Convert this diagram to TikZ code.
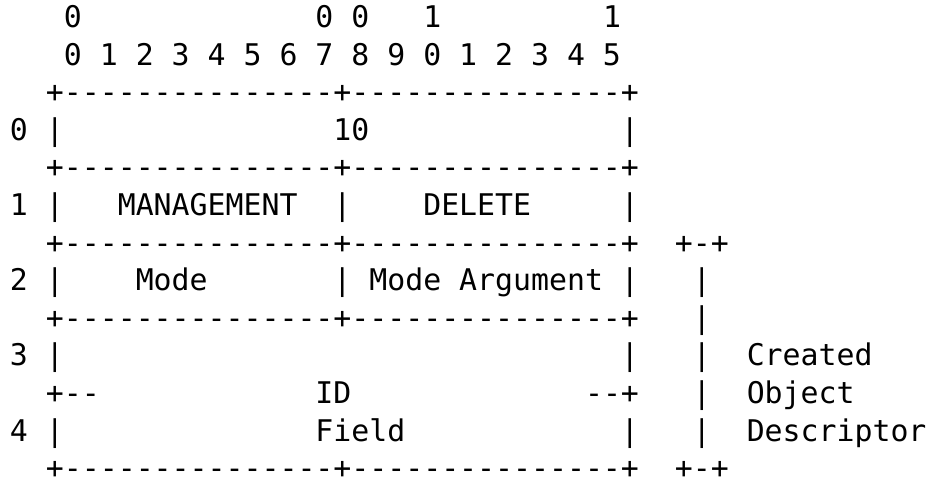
\documentclass[tikz,border=0pt]{standalone}
\usepackage{fontspec}
\newfontfamily\asciimono{DejaVu Sans Mono}
\tikzset{
  txt/.style={font=\asciimono\fontsize{29.85pt}{37.6pt}\selectfont\frenchspacing,
    anchor=base west, inner sep=0pt, outer sep=0pt, text=black}
}
\newcommand\cellat[4]{\node[txt] (#1) at ({1pt+17.97pt*#2-8.985pt},{452.5pt-37.6pt*#3}) {#4};}
\begin{document}
\begin{tikzpicture}
\useasboundingbox[fill=white] (0pt,0pt) rectangle (942pt,480pt);
% header
\cellat{h0a}{4}{0}{0}
\cellat{h0b}{18}{0}{0 0}
\cellat{h0c}{24}{0}{1}
\cellat{h0d}{34}{0}{1}
\cellat{h1}{4}{1}{0 1 2 3 4 5 6 7 8 9 0 1 2 3 4 5}
% row borders
\cellat{b2}{3}{2}{+---------------+---------------+}
\cellat{r0n}{1}{3}{0}
\cellat{r0l}{3}{3}{|}
\cellat{r0t}{19}{3}{10}
\cellat{r0r}{35}{3}{|}
\cellat{b4}{3}{4}{+---------------+---------------+}
\cellat{r1n}{1}{5}{1}
\cellat{r1l}{3}{5}{|}
\cellat{r1a}{7}{5}{MANAGEMENT}
\cellat{r1m}{19}{5}{|}
\cellat{r1b}{24}{5}{DELETE}
\cellat{r1r}{35}{5}{|}
\cellat{b6}{3}{6}{+---------------+---------------+}
\cellat{k6}{38}{6}{+-+}
\cellat{r2n}{1}{7}{2}
\cellat{r2l}{3}{7}{|}
\cellat{r2a}{8}{7}{Mode}
\cellat{r2m}{19}{7}{|}
\cellat{r2b}{21}{7}{Mode Argument}
\cellat{r2r}{35}{7}{|}
\cellat{k7}{39}{7}{|}
\cellat{b8}{3}{8}{+---------------+---------------+}
\cellat{k8}{39}{8}{|}
\cellat{r3n}{1}{9}{3}
\cellat{r3l}{3}{9}{|}
\cellat{r3r}{35}{9}{|}
\cellat{k9}{39}{9}{|}
\cellat{d9}{42}{9}{Created}
\cellat{b10a}{3}{10}{+--}
\cellat{r34a}{18}{10}{ID}
\cellat{b10b}{33}{10}{--+}
\cellat{k10}{39}{10}{|}
\cellat{d10}{42}{10}{Object}
\cellat{r4n}{1}{11}{4}
\cellat{r4l}{3}{11}{|}
\cellat{r34b}{18}{11}{Field}
\cellat{r4r}{35}{11}{|}
\cellat{k11}{39}{11}{|}
\cellat{d11}{42}{11}{Descriptor}
\cellat{b12}{3}{12}{+---------------+---------------+}
\cellat{k12}{38}{12}{+-+}
\end{tikzpicture}
\end{document}
